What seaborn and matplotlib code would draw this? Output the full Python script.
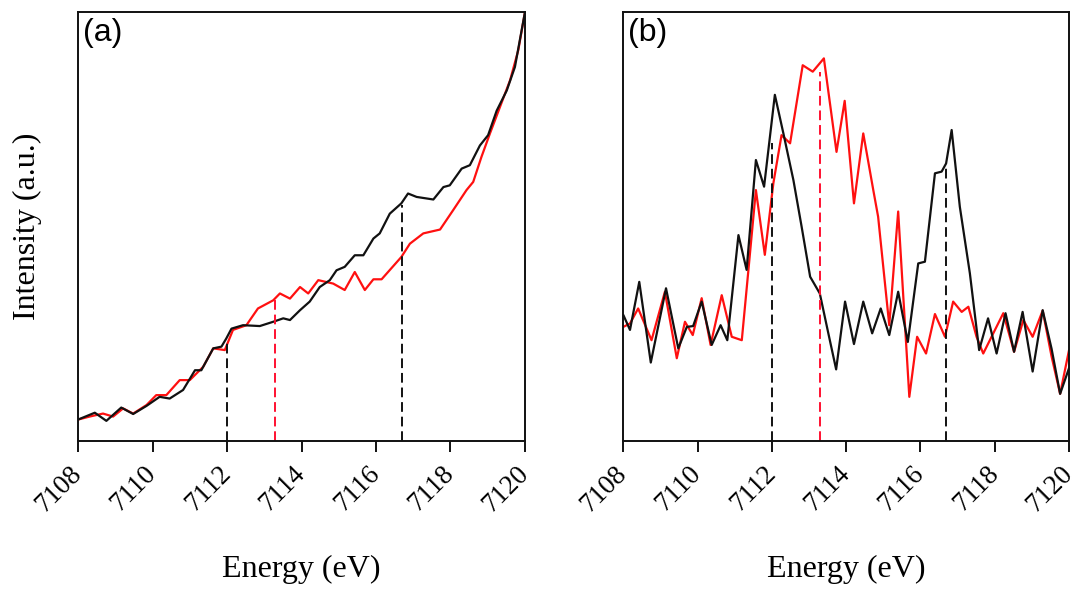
import pandas as pd
import matplotlib
matplotlib.use('Agg')
import matplotlib.pyplot as plt
import seaborn as sns

# panel (a): pre-edge region, black and red spectra
a_black_e = [7108.00, 7108.45, 7108.76, 7109.16, 7109.48, 7109.84, 7110.19, 7110.46, 7110.82, 7111.14,
             7111.31, 7111.63, 7111.85, 7111.98, 7112.12, 7112.43, 7112.88, 7113.24, 7113.51, 7113.69,
             7113.96, 7114.22, 7114.49, 7114.76, 7114.94, 7115.16, 7115.43, 7115.66, 7115.93, 7116.10,
             7116.37, 7116.68, 7116.86, 7117.09, 7117.54, 7117.81, 7117.98, 7118.30, 7118.52, 7118.79,
             7119.01, 7119.24, 7119.51, 7119.73, 7120.00]
a_black_i = [0.050, 0.066, 0.047, 0.078, 0.063, 0.082, 0.103, 0.099, 0.119, 0.165,
             0.165, 0.216, 0.220, 0.239, 0.262, 0.270, 0.268, 0.278, 0.286, 0.282,
             0.305, 0.325, 0.359, 0.375, 0.398, 0.406, 0.433, 0.433, 0.472, 0.484,
             0.530, 0.554, 0.577, 0.569, 0.563, 0.592, 0.596, 0.635, 0.643, 0.689,
             0.713, 0.770, 0.817, 0.872, 1.000]
a_red_e = [7108.00, 7108.31, 7108.67, 7108.94, 7109.21, 7109.48, 7109.84, 7110.10, 7110.37, 7110.73,
           7111.00, 7111.36, 7111.63, 7111.94, 7112.16, 7112.52, 7112.83, 7113.24, 7113.42, 7113.69,
           7113.96, 7114.18, 7114.45, 7114.85, 7115.16, 7115.43, 7115.70, 7115.93, 7116.15, 7116.68,
           7116.91, 7117.27, 7117.72, 7118.07, 7118.43, 7118.61, 7118.83, 7119.06, 7119.33, 7119.60,
           7119.82, 7120.00]
a_red_i = [0.050, 0.057, 0.064, 0.057, 0.076, 0.064, 0.084, 0.107, 0.107, 0.142,
           0.142, 0.173, 0.216, 0.212, 0.259, 0.270, 0.309, 0.328, 0.344, 0.332,
           0.359, 0.344, 0.375, 0.367, 0.352, 0.394, 0.352, 0.377, 0.377, 0.429,
           0.460, 0.484, 0.493, 0.538, 0.585, 0.604, 0.662, 0.717, 0.779, 0.841,
           0.911, 1.000]

# panel (b): derivative-like spectra
b_black_e = [7108.00, 7108.18, 7108.43, 7108.74, 7109.15, 7109.48, 7109.71, 7109.88, 7110.11, 7110.38,
             7110.62, 7110.80, 7111.10, 7111.32, 7111.57, 7111.79, 7112.08, 7112.31, 7112.58, 7112.80,
             7113.03, 7113.29, 7113.52, 7113.73, 7113.97, 7114.21, 7114.46, 7114.70, 7114.93, 7115.16,
             7115.40, 7115.66, 7115.94, 7116.12, 7116.39, 7116.57, 7116.69, 7116.84, 7117.06, 7117.33,
             7117.58, 7117.82, 7118.05, 7118.29, 7118.52, 7118.75, 7119.02, 7119.29, 7119.53, 7119.76,
             7120.00]
b_black_i = [0.294, 0.259, 0.371, 0.183, 0.356, 0.216, 0.266, 0.268, 0.325, 0.224,
             0.270, 0.235, 0.480, 0.399, 0.655, 0.593, 0.807, 0.717, 0.608, 0.500,
             0.383, 0.344, 0.251, 0.167, 0.325, 0.226, 0.325, 0.251, 0.309, 0.247,
             0.348, 0.231, 0.414, 0.418, 0.624, 0.628, 0.647, 0.725, 0.546, 0.391,
             0.212, 0.286, 0.204, 0.298, 0.208, 0.301, 0.162, 0.305, 0.215, 0.110,
             0.170]
b_red_e = [7108.00, 7108.18, 7108.40, 7108.76, 7109.12, 7109.44, 7109.66, 7109.87, 7110.11, 7110.35,
           7110.65, 7110.92, 7111.19, 7111.36, 7111.57, 7111.81, 7112.04, 7112.26, 7112.49, 7112.83,
           7113.10, 7113.40, 7113.74, 7113.96, 7114.21, 7114.46, 7114.73, 7114.86, 7115.16, 7115.40,
           7115.70, 7115.91, 7116.15, 7116.39, 7116.66, 7116.88, 7117.11, 7117.29, 7117.51, 7117.69,
           7117.96, 7118.23, 7118.52, 7118.77, 7119.02, 7119.29, 7119.53, 7119.76, 7120.00]
b_red_i = [0.266, 0.274, 0.309, 0.235, 0.348, 0.193, 0.278, 0.247, 0.333, 0.224,
           0.340, 0.243, 0.235, 0.391, 0.585, 0.434, 0.601, 0.713, 0.694, 0.876,
           0.861, 0.892, 0.674, 0.793, 0.554, 0.717, 0.585, 0.523, 0.270, 0.535,
           0.103, 0.243, 0.204, 0.296, 0.243, 0.325, 0.301, 0.313, 0.243, 0.204,
           0.251, 0.298, 0.208, 0.282, 0.243, 0.304, 0.197, 0.110, 0.212]

# dashed marker lines (energy, height reached, colour)
mark_e = [7112.0, 7113.3, 7116.7]
mark_colors = ['black', 'red', 'black']
a_mark_top = [0.235, 0.333, 0.550]
b_mark_top = [0.695, 0.860, 0.643]

xticks = [7108, 7110, 7112, 7114, 7116, 7118, 7120]


def make_df(be, bi, re_, ri):
    return pd.DataFrame({
        'Energy': be + re_,
        'Intensity': bi + ri,
        'Series': ['black'] * len(be) + ['red'] * len(re_),
    })


sns.set_style('ticks')
plt.rcParams['font.family'] = ['Liberation Serif', 'DejaVu Serif']
plt.rcParams['text.color'] = 'black'
plt.rcParams['axes.labelcolor'] = 'black'
plt.rcParams['xtick.color'] = 'black'

fig = plt.figure(figsize=(10.84, 5.9), dpi=100)
ax_a = fig.add_axes([0.072, 0.2525, 0.4123, 0.7271])
ax_b = fig.add_axes([0.575, 0.2525, 0.4112, 0.7271])

panels = [
    (ax_a, make_df(a_black_e, a_black_i, a_red_e, a_red_i), a_mark_top, '(a)'),
    (ax_b, make_df(b_black_e, b_black_i, b_red_e, b_red_i), b_mark_top, '(b)'),
]

for ax, df, tops, tag in panels:
    sns.lineplot(data=df, x='Energy', y='Intensity', hue='Series', hue_order=['red', 'black'],
                 palette={'black': '#111111', 'red': '#ff1010'}, sort=False, estimator=None,
                 legend=False, lw=1.6, ax=ax)
    for line in ax.lines:
        line.set_solid_joinstyle('round')
    for e, top, c in zip(mark_e, tops, mark_colors):
        ax.vlines(e, 0, top, colors='#111111' if c == 'black' else '#ff1030',
                  linestyles=(0, (5, 2.5)), lw=1.4)
    ax.set_xlim(7108, 7120)
    ax.set_ylim(0, 1)
    ax.set_xticks(xticks)
    ax.set_xticklabels([str(t) for t in xticks], rotation=45, ha='right', va='center',
                       rotation_mode='anchor', fontsize=19.5)
    ax.set_yticks([])
    ax.tick_params(axis='x', direction='out', length=8, width=1.4, pad=13, color='#111111')
    for s in ax.spines.values():
        s.set_visible(True)
        s.set_linewidth(1.4)
        s.set_color('#111111')
    ax.set_xlabel('Energy (eV)', fontsize=23, labelpad=27)
    ax.set_ylabel('')
    ax.text(0.01, 0.985, tag, transform=ax.transAxes, ha='left', va='top',
            fontsize=23, family=['Liberation Sans', 'DejaVu Sans'])

ax_a.set_ylabel('Intensity (a.u.)', fontsize=23, labelpad=26)

fig.savefig('out.png', dpi=100)
